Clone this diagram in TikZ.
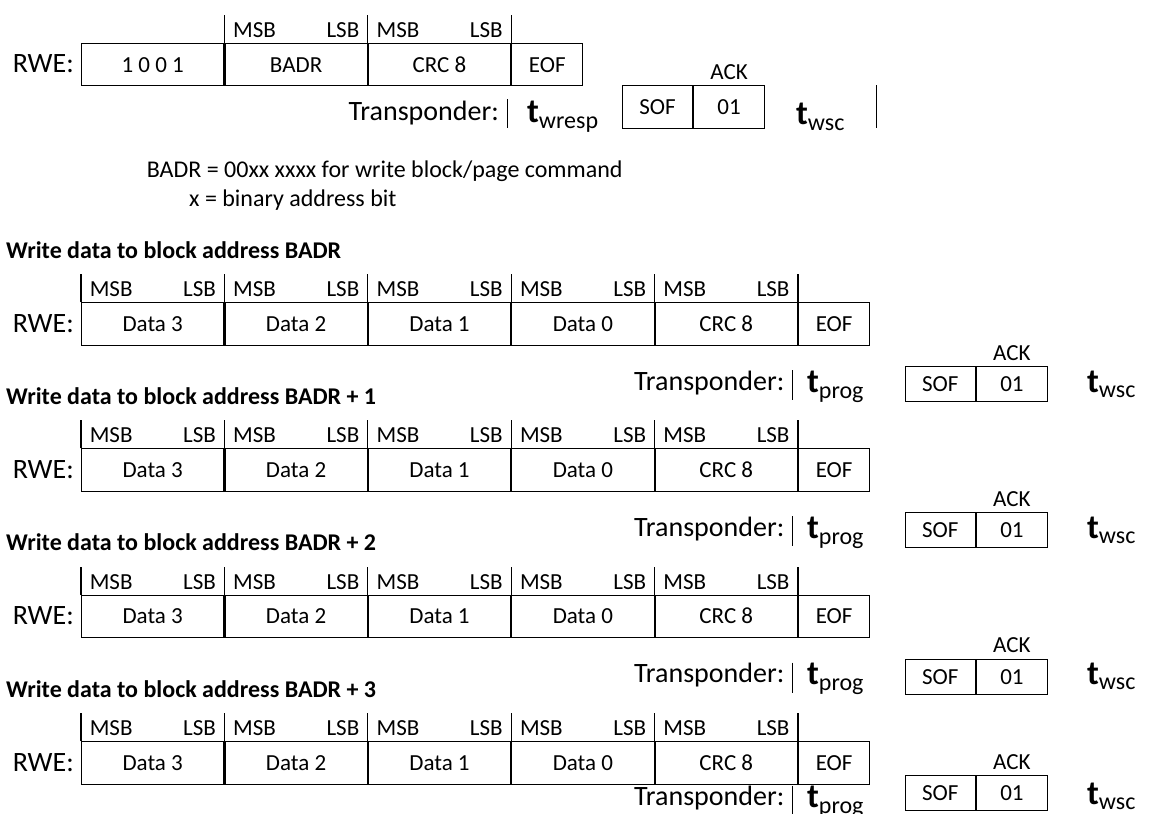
\documentclass[tikz,border=0pt]{standalone}
\usepackage{fontspec}
\setmainfont{Carlito}
\newcommand{\fsz}[1]{\fontsize{#1}{#1}\selectfont}
\begin{document}
\begin{tikzpicture}[x=1pt,y=-1pt,
  cell/.style={draw, line width=1.1pt, anchor=north west, inner sep=0pt, minimum height=42.6pt, minimum width=142.3pt, font=\fsz{23}, text height=15pt, text depth=0pt},
  half/.style={cell, minimum width=71.15pt},
  ackcell/.style={draw, line width=1.1pt, anchor=north west, inner sep=0pt, minimum height=43pt, minimum width=70.5pt, font=\fsz{23}, text height=15pt, text depth=0pt},
  bitlab/.style={font=\fsz{23}, inner sep=0pt},
  rwe/.style={font=\fsz{28}, inner sep=0pt, anchor=east},
  tlab/.style={font=\fsz{28}, inner sep=0pt, anchor=base east},
  tsym/.style={inner sep=0pt, anchor=base west},
  head/.style={font=\bfseries\fsz{24}, inner sep=0pt, anchor=west},
  note/.style={font=\fsz{24}, inner sep=0pt, anchor=west},
  tick/.style={line width=1.1pt},
]
\useasboundingbox (0,0) rectangle (1149,814);

% ---------- top command ----------
\node[rwe] (rwetop) at (74,64) {RWE:};
\node[cell] (t1) at (81,42.7) {1 0 0 1};
\node[cell] (t2) at (t1.north east) {BADR};
\node[cell] (t3) at (t2.north east) {CRC 8};
\node[half] (t4) at (t3.north east) {EOF};
\foreach \n in {t2,t3,t4} \draw[tick] (\n.north west) -- ++(0,-28);
\foreach \n in {t2,t3}{
  \node[bitlab, anchor=west] at ([xshift=8.6pt, yshift=12.7pt]\n.north west) {MSB};
  \node[bitlab, anchor=east] at ([xshift=-8.3pt, yshift=12.7pt]\n.north east) {LSB};
}
\node[tlab] (trtop) at (499,120) {Transponder:};
\draw[tick] (507.3,99) -- (507.3,128);
\node[tsym] (twresp) at (527,122) {\bfseries\fsz{34}t\mdseries\fsz{24}\raisebox{-6pt}{wresp}};
\node[ackcell] (sof0) at (621.7,85) {SOF};
\node[ackcell] (ack0) at (sof0.north east) {01};
\node[bitlab] (acklab0) at ([yshift=13.3pt]ack0.north) {ACK};
\node[tsym] (twsc0) at (796,124) {\bfseries\fsz{34}t\mdseries\fsz{24}\raisebox{-6pt}{wsc}};
\draw[tick] (876.7,85) -- (876.7,128);

\node[note] (n1) at (146.7,171.7) {BADR = 00xx xxxx for write block/page command};
\node[note] (n2) at (189,200) {x = binary address bit};

% ---------- data blocks ----------
\foreach \k/\lo/\lb/\lw in {0/0/0/0,1/0/0/0,2/0/0/0,3/-23/-30/-26}{
\begin{scope}[shift={(0,146.3*\k)}]
  \node[head] (h\k) at (6,250) {Write data to block address BADR\ifnum\k>0{} + \k\fi};
  \node[rwe] (rwe\k) at (74,323.3) {RWE:};
  \node[cell] (a\k) at (81,302) {Data 3};
  \node[cell] (b\k) at (a\k.north east) {Data 2};
  \node[cell] (c\k) at (b\k.north east) {Data 1};
  \node[cell] (e\k) at (c\k.north east) {Data 0};
  \node[cell] (f\k) at (e\k.north east) {CRC 8};
  \node[half] (g\k) at (f\k.north east) {EOF};
  \foreach \n in {a,b,c,e,f,g} \draw[tick] (\n\k.north west) -- ++(0,-28);
  \foreach \n in {a,b,c,e,f}{
    \node[bitlab, anchor=west] at ([xshift=8.6pt, yshift=12.7pt]\n\k.north west) {MSB};
    \node[bitlab, anchor=east] at ([xshift=-8.3pt, yshift=12.7pt]\n\k.north east) {LSB};
  }
  \begin{scope}[shift={(0,\lo)}]
    \node[tlab] (tr\k) at (784.5,390) {Transponder:};
    \draw[tick] (792.5,370) -- (792.5,400);
    \node[tsym] (tp\k) at (807,392) {\bfseries\fsz{34}t\mdseries\fsz{24}\raisebox{-6pt}{prog}};
  \end{scope}
  \begin{scope}[shift={(0,\lb)}]
    \node[ackcell, minimum height=35pt] (s\k) at (904.5,366) {SOF};
    \node[ackcell, minimum height=35pt] (o\k) at (s\k.north east) {01};
    \node[bitlab] (al\k) at ([yshift=13pt]o\k.north) {ACK};
  \end{scope}
  \begin{scope}[shift={(0,\lw)}]
    \node[tsym] (tw\k) at (1087,392) {\bfseries\fsz{34}t\mdseries\fsz{24}\raisebox{-5pt}{wsc}};
  \end{scope}
\end{scope}
}
\end{tikzpicture}
\end{document}
